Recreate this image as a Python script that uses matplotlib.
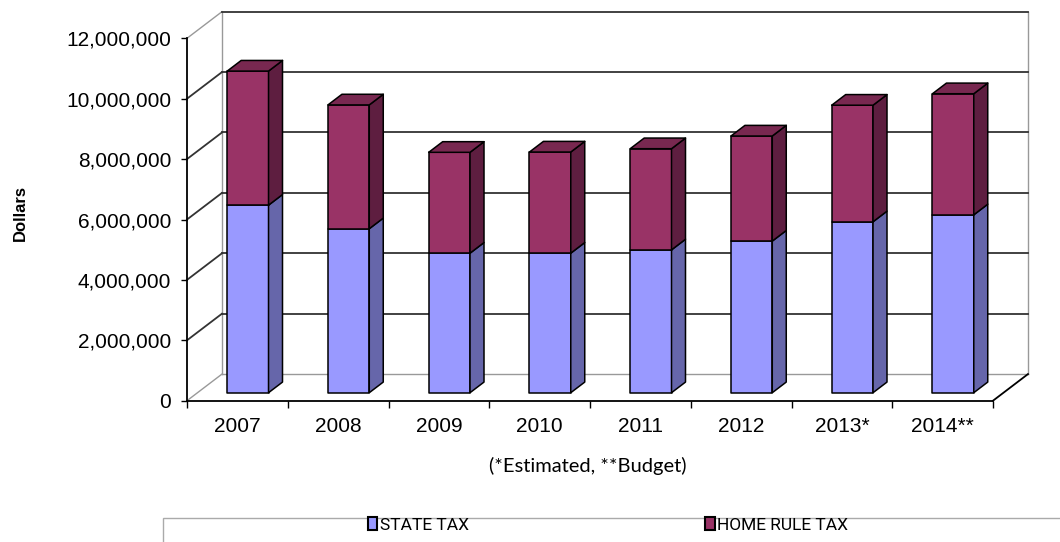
import numpy as np
import matplotlib
matplotlib.use("Agg")
import matplotlib.pyplot as plt
from matplotlib.patches import Polygon, Patch, Rectangle
from matplotlib.ticker import FuncFormatter

# data
years = ['2007', '2008', '2009', '2010', '2011', '2012', '2013*', '2014**']
state_tax = [6210000, 5430000, 4620000, 4620000, 4730000, 5020000, 5660000, 5890000]
home_rule_tax = [4440000, 4100000, 3340000, 3350000, 3350000, 3480000, 3860000, 4010000]
y_ticks = [0, 2000000, 4000000, 6000000, 8000000, 10000000, 12000000]

# colours
state_front, state_side = '#9999FF', '#6666AA'
home_front, home_side, home_top = '#993366', '#5E1E40', '#782850'

# fake 3d depth (in data units)
DX = 0.347
DY = 0.881e6
D0, D1 = 0.3, 0.7
BW = 0.41
YMAX = 12000000

fig = plt.figure(figsize=(10.6, 5.42), dpi=100)
ax = fig.add_axes([187/1060, 141.3/542, 806/1060, 362.4/542])
ax.set_xlim(0, len(years))
ax.set_ylim(0, YMAX)

# walls
wall = dict(color='#999999', lw=1, zorder=1, clip_on=False)
grid = dict(color='#333333', lw=1.3, zorder=1, clip_on=False)
n = len(years)
ax.plot([DX, DX], [DY, YMAX + DY], **wall)
ax.plot([n + DX, n + DX], [DY, YMAX + DY], **wall)
ax.plot([DX, n + DX], [DY, DY], **wall)
ax.plot([0, DX], [0, DY], **wall)
ax.plot([0, DX], [YMAX, YMAX + DY], **wall)
ax.plot([n, n + DX], [0, DY], color='black', lw=1.3, zorder=1, clip_on=False)
for v in y_ticks[1:]:
    ax.plot([DX, n + DX], [v + DY, v + DY], **grid)
    if v < YMAX:
        ax.plot([0, DX], [v, v + DY], **grid)


def box(x0, y0, y1, front, side, top=None):
    fx = x0 + D0 * DX
    fy0, fy1 = y0 + D0 * DY, y1 + D0 * DY
    ox, oy = (D1 - D0) * DX, (D1 - D0) * DY
    kw = dict(edgecolor='black', lw=1.1, zorder=3, clip_on=False, joinstyle='round')
    ax.add_patch(Polygon([(fx, fy0), (fx + BW, fy0), (fx + BW, fy1), (fx, fy1)], facecolor=front, **kw))
    ax.add_patch(Polygon([(fx + BW, fy0), (fx + BW + ox, fy0 + oy), (fx + BW + ox, fy1 + oy), (fx + BW, fy1)],
                         facecolor=side, **kw))
    if top is not None:
        ax.add_patch(Polygon([(fx, fy1), (fx + BW, fy1), (fx + BW + ox, fy1 + oy), (fx + ox, fy1 + oy)],
                             facecolor=top, **kw))


for i in range(n):
    x0 = i + 0.5 - BW / 2
    box(x0, 0, state_tax[i], state_front, state_side)
    box(x0, state_tax[i], state_tax[i] + home_rule_tax[i], home_front, home_side, home_top)

# axes
for s in ['top', 'right']:
    ax.spines[s].set_visible(False)
for s in ['left', 'bottom']:
    ax.spines[s].set_color('black')
    ax.spines[s].set_linewidth(1.3)
    ax.spines[s].set_zorder(2)

ax.set_yticks(y_ticks)
ax.yaxis.set_major_formatter(FuncFormatter(lambda v, p: f'{int(v):,}'))
ax.tick_params(axis='y', direction='out', length=4.5, width=1, pad=7, labelsize=15,
               labelfontfamily='Liberation Sans')
ax.set_xticks(np.arange(n) + 0.5)
ax.set_xticklabels(years, fontsize=15, fontfamily='Liberation Sans')
ax.set_xticks(np.arange(n + 1), minor=True)
ax.tick_params(axis='x', which='major', length=0, pad=12)
ax.tick_params(axis='x', which='minor', direction='out', length=5, width=1)

fig.text(20/1060, 1 - 213/542, 'Dollars', rotation=90, ha='center', va='center',
         fontsize=12, fontweight='bold', family='Liberation Sans')
fig.text(588/1060, 1 - 466/542, '(*Estimated, **Budget)', ha='center', va='center',
         fontsize=14.5, family='Lato')

# legend box
fig.add_artist(Rectangle((163/1060, -0.02), 1.0, (542 - 518)/542 + 0.02,
                         transform=fig.transFigure, fill=False, edgecolor='#aaaaaa', lw=1))
handles = [Patch(facecolor=state_front, edgecolor='black', lw=1.5),
           Patch(facecolor=home_front, edgecolor='black', lw=1.5)]
fig.legend(handles, ['STATE TAX', 'HOME RULE TAX'], loc='center',
           bbox_to_anchor=(608/1060, 1 - 525/542), ncol=2, frameon=False,
           handlelength=0.55, handleheight=0.8, handletextpad=0.15, columnspacing=13.6,
           prop={'family': 'Roboto', 'size': 12.5})

fig.savefig('out.png', dpi=100)
